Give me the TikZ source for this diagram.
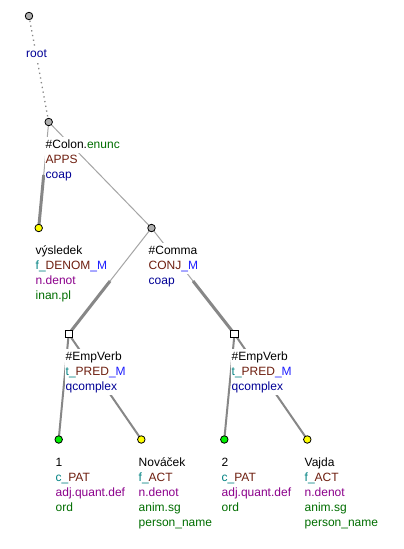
\documentclass[tikz,border=0pt]{standalone}
\usepackage{fontspec}
\setmainfont{Liberation Sans}
\usetikzlibrary{calc}
\definecolor{cblk}{RGB}{0,0,0}
\definecolor{cgreen}{RGB}{0,110,0}
\definecolor{cbrown}{RGB}{110,30,15}
\definecolor{cteal}{RGB}{0,130,130}
\definecolor{cblue}{RGB}{30,30,255}
\definecolor{cdblue}{RGB}{0,0,150}
\definecolor{cpurple}{RGB}{140,0,140}
\definecolor{cnodegray}{RGB}{175,175,175}
\definecolor{cyel}{RGB}{255,255,0}
\definecolor{cgrn}{RGB}{0,240,0}
\definecolor{cthin}{RGB}{165,165,165}
\definecolor{cthick}{RGB}{135,135,135}
\tikzset{
  ln/.style={anchor=base west, fill=white, inner sep=0.5pt, text height=10.5pt, text depth=4pt, font=\fontsize{12}{15}\selectfont},
  tnode/.style={circle, draw=black, line width=0.8pt, minimum size=7.5pt, inner sep=0pt},
  snode/.style={rectangle, draw=black, fill=white, line width=0.8pt, minimum size=7.5pt, inner sep=0pt},
  thinedge/.style={draw=cthin, line width=1pt},
  thickedge/.style={draw=cthick, line width=3pt},
  midedge/.style={draw=cthick, line width=2pt},
  rootedge/.style={draw=cthick, line width=1.3pt, dash pattern=on 1.3pt off 3.5pt},
}
\begin{document}
\begin{tikzpicture}[x=1pt,y=-1pt]
\useasboundingbox[fill=white] (0,0) rectangle (404,549);
% node positions
\coordinate (root) at (29,16);
\coordinate (colon) at (48.7,122);
\coordinate (vys) at (38.7,228);
\coordinate (comma) at (151.5,228);
\coordinate (emp1) at (68.7,334);
\coordinate (emp2) at (234.5,334);
\coordinate (one) at (58.7,439.5);
\coordinate (novacek) at (141.3,439.5);
\coordinate (two) at (224.3,439.5);
\coordinate (vajda) at (307.3,439.5);
% edges
\draw[rootedge] (root) -- (colon);
\draw[thinedge] (colon) -- ($(colon)!0.5!(vys)$) coordinate (m1);
\draw[thickedge] (m1) -- (vys);
\draw[thinedge] (colon) -- (comma);
\draw[thinedge] (comma) -- ($(comma)!0.5!(emp1)$) coordinate (m2);
\draw[thickedge] (m2) -- (emp1);
\draw[thinedge] (comma) -- ($(comma)!0.5!(emp2)$) coordinate (m3);
\draw[thickedge] (m3) -- (emp2);
\draw[midedge] (emp1) -- (one);
\draw[midedge] (emp1) -- (novacek);
\draw[midedge] (emp2) -- (two);
\draw[midedge] (emp2) -- (vajda);
% labels
\node[ln] (l-root) at (25.5,57) {\textcolor{cdblue}{root}};
\node[ln] (l-colon1) at (45,148) {\#Colon.\textcolor{cgreen}{enunc}};
\node[ln] (l-colon2) at (45,163) {\textcolor{cbrown}{APPS}};
\node[ln] (l-colon3) at (45,178) {\textcolor{cdblue}{coap}};
\node[ln] (l-vys1) at (35,254) {výsledek};
\node[ln] (l-vys2) at (35,269) {\textcolor{cteal}{f\_}\textcolor{cbrown}{DENOM}\textcolor{cblue}{\_M}};
\node[ln] (l-vys3) at (35,284) {\textcolor{cpurple}{n.denot}};
\node[ln] (l-vys4) at (35,299) {\textcolor{cgreen}{inan.pl}};
\node[ln] (l-comma1) at (148,254) {\#Comma};
\node[ln] (l-comma2) at (148,269) {\textcolor{cbrown}{CONJ}\textcolor{cblue}{\_M}};
\node[ln] (l-comma3) at (148,284) {\textcolor{cdblue}{coap}};
\node[ln] (l-empa1) at (65,360) {\#EmpVerb};
\node[ln] (l-empa2) at (65,375) {\textcolor{cteal}{t\_}\textcolor{cbrown}{PRED}\textcolor{cblue}{\_M}};
\node[ln] (l-empa3) at (65,390) {\textcolor{cdblue}{qcomplex}};
\node[ln] (l-empb1) at (231,360) {\#EmpVerb};
\node[ln] (l-empb2) at (231,375) {\textcolor{cteal}{t\_}\textcolor{cbrown}{PRED}\textcolor{cblue}{\_M}};
\node[ln] (l-empb3) at (231,390) {\textcolor{cdblue}{qcomplex}};
\node[ln] (l-one1) at (55,466) {1};
\node[ln] (l-one2) at (55,481) {\textcolor{cteal}{c\_}\textcolor{cbrown}{PAT}};
\node[ln] (l-one3) at (55,496) {\textcolor{cpurple}{adj.quant.def}};
\node[ln] (l-one4) at (55,511) {\textcolor{cgreen}{ord}};
\node[ln] (l-nov1) at (138,466) {Nováček};
\node[ln] (l-nov2) at (138,481) {\textcolor{cteal}{f\_}\textcolor{cbrown}{ACT}};
\node[ln] (l-nov3) at (138,496) {\textcolor{cpurple}{n.denot}};
\node[ln] (l-nov4) at (138,511) {\textcolor{cgreen}{anim.sg}};
\node[ln] (l-nov5) at (138,526) {\textcolor{cgreen}{person\_name}};
\node[ln] (l-two1) at (221,466) {2};
\node[ln] (l-two2) at (221,481) {\textcolor{cteal}{c\_}\textcolor{cbrown}{PAT}};
\node[ln] (l-two3) at (221,496) {\textcolor{cpurple}{adj.quant.def}};
\node[ln] (l-two4) at (221,511) {\textcolor{cgreen}{ord}};
\node[ln] (l-vaj1) at (304,466) {Vajda};
\node[ln] (l-vaj2) at (304,481) {\textcolor{cteal}{f\_}\textcolor{cbrown}{ACT}};
\node[ln] (l-vaj3) at (304,496) {\textcolor{cpurple}{n.denot}};
\node[ln] (l-vaj4) at (304,511) {\textcolor{cgreen}{anim.sg}};
\node[ln] (l-vaj5) at (304,526) {\textcolor{cgreen}{person\_name}};
% tree nodes
\node[tnode, fill=cnodegray] (n-root) at (root) {};
\node[tnode, fill=cnodegray] (n-colon) at (colon) {};
\node[tnode, fill=cyel] (n-vys) at (vys) {};
\node[tnode, fill=cnodegray] (n-comma) at (comma) {};
\node[snode] (n-emp1) at (emp1) {};
\node[snode] (n-emp2) at (emp2) {};
\node[tnode, fill=cgrn] (n-one) at (one) {};
\node[tnode, fill=cyel] (n-nov) at (novacek) {};
\node[tnode, fill=cgrn] (n-two) at (two) {};
\node[tnode, fill=cyel] (n-vaj) at (vajda) {};
\end{tikzpicture}
\end{document}
